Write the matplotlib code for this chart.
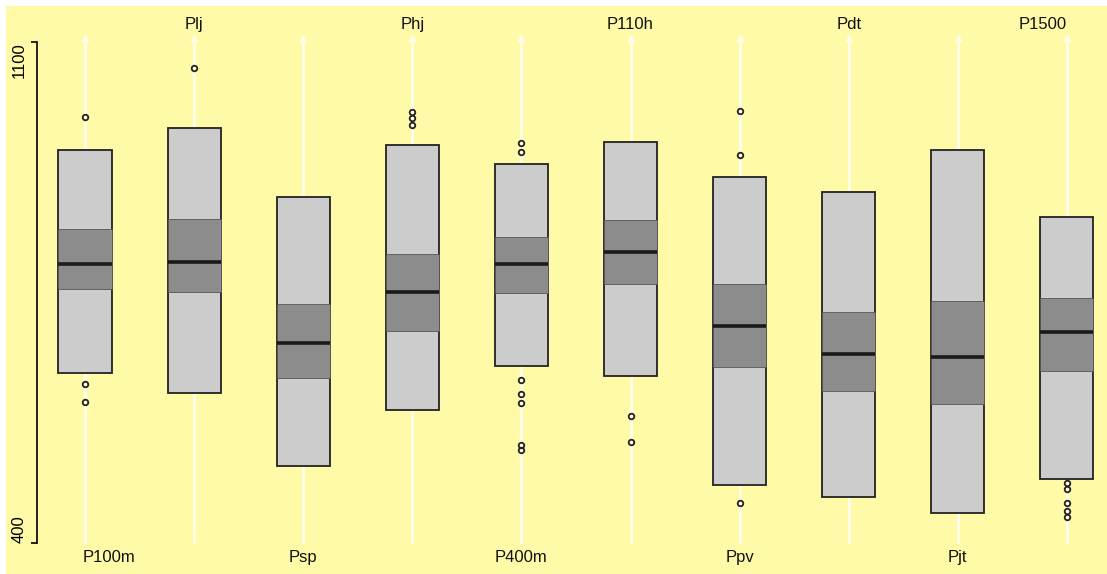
import numpy as np
import matplotlib
matplotlib.use('Agg')
from matplotlib import pyplot as plt

# data (points per event)
categories = ['P100m', 'Plj', 'Psp', 'Phj', 'P400m', 'P110h', 'Ppv', 'Pdt', 'Pjt', 'P1500']
outer_lo = [637, 610, 508, 586, 647, 633, 481, 464, 442, 489]
outer_hi = [949, 980, 883, 956, 929, 960, 911, 890, 949, 855]
inner_lo = [755, 751, 630, 696, 749, 762, 646, 612, 594, 640]
inner_hi = [839, 853, 734, 804, 828, 851, 762, 723, 738, 742]
medians = [790, 793, 679, 751, 790, 807, 703, 664, 660, 695]
outliers = [
    [995, 622, 597],
    [1064],
    [],
    [1002, 994, 984],
    [959, 946, 628, 608, 596, 537, 530],
    [577, 541],
    [1004, 942, 456],
    [],
    [],
    [484, 475, 456, 445, 436],
]
y_ticks = [400, 1100]

plt.rcParams['font.family'] = ['Liberation Sans', 'DejaVu Sans']

fig = plt.figure(figsize=(11.07, 5.74), dpi=100)
fig.patch.set_facecolor('white')
ax = fig.add_axes([6 / 1107, 0, 1101 / 1107, 568 / 574])
ax.set_facecolor('#fffaa8')

x = np.arange(len(categories))
w = 0.486

# background guide lines with small arrow tips
ax.vlines(x, 400, 1104, color='#fffde6', lw=2.2, zorder=1)
ax.plot(x, [1106] * len(x), '^', color='#fffde6', ms=5, zorder=1)

lo = np.array(outer_lo)
hi = np.array(outer_hi)
ax.bar(x, hi - lo, bottom=lo, width=w, color='#cccccc', edgecolor='#222222', lw=1.3, zorder=2)
ilo = np.array(inner_lo)
ihi = np.array(inner_hi)
ax.bar(x, ihi - ilo, bottom=ilo, width=w, color='#8c8c8c', edgecolor='#555555', lw=0.6, zorder=3)
ax.hlines(medians, x - w / 2, x + w / 2, color='#1a1a1a', lw=2.6, zorder=4)

for i, pts in enumerate(outliers):
    if pts:
        ax.plot([i] * len(pts), pts, 'o', mfc='none', mec='#222222', ms=4, mew=1.3, zorder=5)

# category labels alternate bottom / top
for i, name in enumerate(categories):
    ha = 'center'
    if i == 0:
        ha = 'left'
    elif i == len(categories) - 1:
        ha = 'right'
    y = 380 if i % 2 == 0 else 1124
    ax.text(i - 0.02 if i == 0 else i, y, name, ha=ha, va='center', fontsize=12, color='#111111')

ax.set_xlim(-0.724, 9.367)
ax.set_ylim(356.7, 1150.3)

for s in ['top', 'right', 'bottom']:
    ax.spines[s].set_visible(False)
ax.spines['left'].set_position(('data', -0.44))
ax.spines['left'].set_bounds(400, 1100)
ax.spines['left'].set_linewidth(1.2)
ax.set_xticks([])
ax.set_yticks(y_ticks)
ax.set_yticklabels([])
ax.tick_params(axis='y', length=4.5, width=1.2)
ax.text(-0.605, 1100, '1100', rotation=90, ha='center', va='top', fontsize=12)
ax.text(-0.605, 400, '400', rotation=90, ha='center', va='bottom', fontsize=12)

fig.savefig('out.png', dpi=100)
